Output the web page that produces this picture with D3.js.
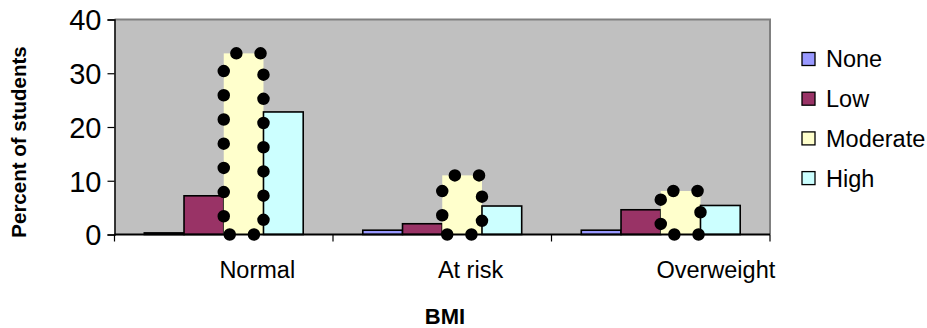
<!DOCTYPE html>
<html>
<head>
<meta charset="utf-8">
<script src="https://cdn.jsdelivr.net/npm/d3@7"></script>
<style>
  html, body { margin: 0; padding: 0; background: #fff; }
  svg { display: block; font-family: "Liberation Sans", Arial, Helvetica, sans-serif; }
</style>
</head>
<body>
<svg id="chart" width="927" height="328"></svg>
<script>
// BMI category percentages by activity level
const categories = ["Normal", "At risk", "Overweight"];
const seriesNames = ["None", "Low", "Moderate", "High"];
const noneValues = [0.3, 0.8, 0.8];
const lowValues = [7.2, 2.0, 4.6];
const moderateValues = [33.7, 11.0, 8.1];
const highValues = [22.8, 5.3, 5.4];
const yTicks = [0, 10, 20, 30, 40];

const seriesValues = [noneValues, lowValues, moderateValues, highValues];
const seriesColors = ["#9999FF", "#993366", "#FFFFCC", "#CCFFFF"];

const svg = d3.select("#chart");
const plot = { left: 114.5, right: 770, top: 19.5, bottom: 234.5 };

const x = d3.scaleBand().domain(categories).range([plot.left, plot.right]).paddingInner(0).paddingOuter(0);
const y = d3.scaleLinear().domain([0, 40]).range([plot.bottom, plot.top]);

// gap width 150% of a bar: four bars + 1.5 bar widths per category
const barW = x.bandwidth() / 5.5;
const gapOffset = (x.bandwidth() - 4 * barW) / 2;
const barX = (cat, si) => x(cat) + gapOffset + si * barW;

// plot background and frame
svg.append("rect")
  .attr("x", plot.left).attr("y", plot.top)
  .attr("width", plot.right - plot.left).attr("height", plot.bottom - plot.top)
  .attr("fill", "#C0C0C0");
svg.append("path")
  .attr("d", `M${plot.left},${plot.top}H${plot.right}V${plot.bottom}`)
  .attr("fill", "none").attr("stroke", "#808080").attr("stroke-width", 2);

// bars
const rows = [];
seriesNames.forEach((s, si) => {
  categories.forEach((c, ci) => {
    rows.push({ series: s, si, cat: c, value: seriesValues[si][ci] });
  });
});

svg.append("g").selectAll("rect").data(rows).join("rect")
  .attr("x", d => barX(d.cat, d.si))
  .attr("y", d => y(d.value))
  .attr("width", barW)
  .attr("height", d => y(0) - y(d.value))
  .attr("fill", d => seriesColors[d.si])
  .attr("stroke", d => d.series === "Moderate" ? "none" : "#000")
  .attr("stroke-width", 1.6);

// dotted round-dot outline for the Moderate series
const dotted = rows.filter(d => d.series === "Moderate");
svg.append("g").selectAll("path").data(dotted).join("path")
  .attr("d", d => {
    const x0 = barX(d.cat, d.si), x1 = x0 + barW, y0 = y(d.value), y1 = y(0);
    return `M${x0},${y0}H${x1}V${y1}H${x0}Z`;
  })
  .attr("fill", "none")
  .attr("stroke", "#000")
  .attr("stroke-width", 12.5)
  .attr("stroke-linecap", "round")
  .attr("stroke-dasharray", "0 24.2")
  .attr("stroke-dashoffset", 11.6);

// y axis
const yAxis = svg.append("g").attr("transform", `translate(${plot.left},0)`)
  .call(d3.axisLeft(y).tickValues(yTicks).tickSize(7).tickPadding(6));
yAxis.select(".domain").attr("stroke", "#000").attr("stroke-width", 1.5);
yAxis.selectAll(".tick line").attr("stroke", "#000").attr("stroke-width", 1.2);
yAxis.selectAll(".tick text")
  .attr("font-size", 29).attr("fill", "#000")
  .attr("font-family", "Liberation Sans, Arial, sans-serif")
  .attr("dy", "0.36em");

// x axis: tick marks at category boundaries
const boundaries = categories.map(c => x(c)).concat([plot.right]);
const xAxisG = svg.append("g");
xAxisG.append("line")
  .attr("x1", plot.left).attr("x2", plot.right)
  .attr("y1", plot.bottom).attr("y2", plot.bottom)
  .attr("stroke", "#000").attr("stroke-width", 1.8);
xAxisG.selectAll("line.tk").data(boundaries).join("line").attr("class", "tk")
  .attr("x1", d => d).attr("x2", d => d)
  .attr("y1", plot.bottom).attr("y2", plot.bottom + 7)
  .attr("stroke", "#000").attr("stroke-width", 1.2);
xAxisG.selectAll("text").data(categories).join("text")
  .attr("x", d => x(d) + x.bandwidth() * 0.48)
  .attr("y", 278)
  .attr("font-size", 23.5)
  .attr("fill", "#000")
  .text(d => d);

// axis titles
svg.append("text")
  .attr("x", 445).attr("y", 324)
  .attr("text-anchor", "middle")
  .attr("font-size", 22).attr("font-weight", "bold")
  .text("BMI");
svg.append("text")
  .attr("transform", "translate(26,142) rotate(-90)")
  .attr("text-anchor", "middle")
  .attr("font-size", 20.5).attr("font-weight", "bold")
  .text("Percent of students");

// legend
const legend = svg.append("g").selectAll("g").data(seriesNames).join("g")
  .attr("transform", (d, i) => `translate(802,${59 + i * 39.7})`);
legend.append("rect")
  .attr("x", 0).attr("y", -6.5).attr("width", 13).attr("height", 13)
  .attr("fill", (d, i) => seriesColors[i])
  .attr("stroke", "#000").attr("stroke-width", 1.3);
legend.append("text")
  .attr("x", 24).attr("y", 0).attr("dy", "0.36em")
  .attr("font-size", 23.5).attr("fill", "#000")
  .text(d => d);
</script>
</body>
</html>
